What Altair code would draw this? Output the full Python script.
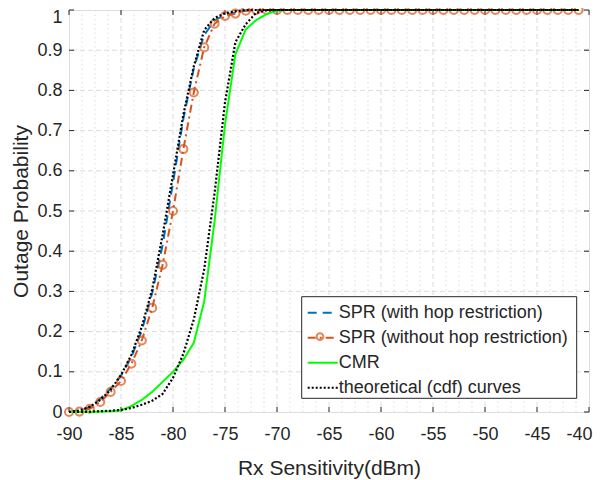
import altair as alt
import pandas as pd

# ---------------- data ----------------
x_dbm = [-90, -89, -88, -87, -86, -85, -84, -83, -82, -81,
         -80, -79, -78, -77, -76, -75, -74, -73, -72, -71,
         -70, -69, -68, -67, -66, -65, -64, -63, -62, -61,
         -60, -59, -58, -57, -56, -55, -54, -53, -52, -51,
         -50, -49, -48, -47, -46, -45, -44, -43, -42, -41]

spr_hop = [0.0, 0.003, 0.012, 0.033, 0.058, 0.09, 0.137, 0.202, 0.296, 0.415,
           0.57, 0.73, 0.855, 0.938, 0.974, 0.988, 0.994, 0.999, 1.0, 1.0,
           1.0, 1.0, 1.0, 1.0, 1.0, 1.0, 1.0, 1.0, 1.0, 1.0,
           1.0, 1.0, 1.0, 1.0, 1.0, 1.0, 1.0, 1.0, 1.0, 1.0,
           1.0, 1.0, 1.0, 1.0, 1.0, 1.0, 1.0, 1.0, 1.0, 1.0]

spr_nohop = [0.0, 0.001, 0.008, 0.025, 0.05, 0.077, 0.12, 0.178, 0.259, 0.366,
             0.5, 0.654, 0.795, 0.907, 0.966, 0.985, 0.991, 0.998, 1.0, 1.0,
             1.0, 1.0, 1.0, 1.0, 1.0, 1.0, 1.0, 1.0, 1.0, 1.0,
             1.0, 1.0, 1.0, 1.0, 1.0, 1.0, 1.0, 1.0, 1.0, 1.0,
             1.0, 1.0, 1.0, 1.0, 1.0, 1.0, 1.0, 1.0, 1.0, 1.0]

cmr = [0.0, 0.0, 0.0, 0.001, 0.002, 0.004, 0.015, 0.03, 0.05, 0.075,
       0.1, 0.13, 0.172, 0.275, 0.475, 0.715, 0.89, 0.952, 0.975, 0.99,
       0.998, 1.0, 1.0, 1.0, 1.0, 1.0, 1.0, 1.0, 1.0, 1.0,
       1.0, 1.0, 1.0, 1.0, 1.0, 1.0, 1.0, 1.0, 1.0, 1.0,
       1.0, 1.0, 1.0, 1.0, 1.0, 1.0, 1.0, 1.0, 1.0, 1.0]

theory_spr = [0.0, 0.004, 0.013, 0.03, 0.055, 0.092, 0.142, 0.212, 0.305, 0.44,
              0.59, 0.74, 0.86, 0.95, 0.98, 0.992, 0.997, 1.0, 1.0, 1.0,
              1.0, 1.0, 1.0, 1.0, 1.0, 1.0, 1.0, 1.0, 1.0, 1.0,
              1.0, 1.0, 1.0, 1.0, 1.0, 1.0, 1.0, 1.0, 1.0, 1.0,
              1.0, 1.0, 1.0, 1.0, 1.0, 1.0, 1.0, 1.0, 1.0, 1.0]

theory_cmr = [0.0, 0.0, 0.001, 0.002, 0.003, 0.005, 0.01, 0.018, 0.028, 0.045,
              0.085, 0.145, 0.23, 0.355, 0.545, 0.77, 0.92, 0.965, 0.993, 0.999,
              1.0, 1.0, 1.0, 1.0, 1.0, 1.0, 1.0, 1.0, 1.0, 1.0,
              1.0, 1.0, 1.0, 1.0, 1.0, 1.0, 1.0, 1.0, 1.0, 1.0,
              1.0, 1.0, 1.0, 1.0, 1.0, 1.0, 1.0, 1.0, 1.0, 1.0]

series_names = ["SPR (with hop restriction)", "SPR (without hop restriction)",
                "CMR", "theoretical (cdf) curves"]
x_ticks = [-90, -85, -80, -75, -70, -65, -60, -55, -50, -45, -40]
y_ticks = [0, 0.1, 0.2, 0.3, 0.4, 0.5, 0.6, 0.7, 0.8, 0.9, 1]

# ---------------- styles ----------------
colors = ["#0072BD", "#D95319", "#00FF00", "#000000"]
dashes = [[9, 6], [8, 4, 2, 4], [1, 0], [2, 2]]
W, H = 520, 402
FONT = "Liberation Sans"
TXT = "#262626"
FS = 18
# legend box (pixels inside the plot area)
BOX_X0, BOX_X1, BOX_Y0, BOX_Y1 = 232.7, 507.7, 286.7, 388.3
LEG_X, LEG_Y = 232.7, 281.7

curves = [("a", series_names[0], spr_hop),
          ("b", series_names[1], spr_nohop),
          ("c", series_names[2], cmr),
          ("d", series_names[3], theory_spr),
          ("e", series_names[3], theory_cmr)]
rows = []
for cid, name, vals in curves:
    for xv, yv in zip(x_dbm, vals):
        rows.append({"x": xv, "y": yv, "series": name, "curve": cid})
df = pd.DataFrame(rows)

x_scale = alt.Scale(domain=[-90, -40], nice=False, zero=False)
y_scale = alt.Scale(domain=[0, 1], nice=False)

x_axis = alt.Axis(values=x_ticks, labelExpr="'' + datum.value", ticks=False, domain=False,
                  grid=False, labelFont=FONT, labelFontSize=FS, labelColor=TXT,
                  labelPadding=13, labelFlush=False, labelOverlap=False,
                  labelOffset={"condition": {"test": "datum.value === -40", "value": -10}, "value": 0},
                  title="Rx Sensitivity(dBm)", titleFont=FONT, titleFontSize=21,
                  titleFontWeight="normal", titleColor=TXT, titleY=62,
                  titleBaseline="alphabetic")
y_axis = alt.Axis(values=y_ticks, format="~g", ticks=False, domain=False, grid=False,
                  labelFont=FONT, labelFontSize=FS, labelColor=TXT, labelPadding=7,
                  labelFlush=False, labelOverlap=False,
                  labelOffset={"condition": {"test": "datum.value === 1", "value": 7}, "value": 0},
                  title="Outage Probability", titleFont=FONT, titleFontSize=21,
                  titleFontWeight="normal", titleColor=TXT, titleX=-42, titleY=H / 2,
                  titleBaseline="alphabetic", titleAlign="center", titleAngle=270)

X = alt.X("x:Q", scale=x_scale, axis=x_axis)
Y = alt.Y("y:Q", scale=y_scale, axis=y_axis)

legend = alt.Legend(
    title=None, orient="none", legendX=LEG_X, legendY=LEG_Y,
    symbolType="stroke", symbolSize=900, symbolStrokeWidth=2,
    labelFont=FONT, labelFontSize=FS, labelColor=TXT, labelLimit=400, labelOffset=0,
    padding=5, rowPadding=0,
)
color_enc = alt.Color("series:N", scale=alt.Scale(domain=series_names, range=colors), legend=legend)
dash_enc = alt.StrokeDash("series:N", scale=alt.Scale(domain=series_names, range=dashes), legend=legend)

# ---------------- grid ----------------
minor_x = [-90 + 1.25 * i for i in range(1, 40) if i % 4 != 0]
grid_minor = alt.Chart(pd.DataFrame({"x": minor_x})).mark_rule(
    color="#dedede", strokeDash=[1.5, 3], strokeWidth=1).encode(x=X)
grid_vx = alt.Chart(pd.DataFrame({"x": x_ticks[1:-1]})).mark_rule(
    color="#dcdcdc", strokeDash=[5, 3], strokeWidth=1).encode(x=X)
grid_hy = alt.Chart(pd.DataFrame({"y": y_ticks[1:-1]})).mark_rule(
    color="#dcdcdc", strokeDash=[5, 3], strokeWidth=1).encode(y=Y)

# inward ticks (box style)
tick_b = alt.Chart(pd.DataFrame({"x": x_ticks})).mark_rule(color=TXT, strokeWidth=1).encode(
    x=X, y=alt.value(H), y2=alt.value(H - 5))
tick_t = alt.Chart(pd.DataFrame({"x": x_ticks})).mark_rule(color=TXT, strokeWidth=1).encode(
    x=X, y=alt.value(0), y2=alt.value(5))
tick_l = alt.Chart(pd.DataFrame({"y": y_ticks})).mark_rule(color=TXT, strokeWidth=1).encode(
    y=Y, x=alt.value(0), x2=alt.value(5))
tick_r = alt.Chart(pd.DataFrame({"y": y_ticks})).mark_rule(color=TXT, strokeWidth=1).encode(
    y=Y, x=alt.value(W - 5), x2=alt.value(W))

# legend background box (decoration)
leg_box = alt.Chart(pd.DataFrame({"k": [0]})).mark_rect(
    fill="white", stroke=TXT, strokeWidth=1).encode(
    x=alt.value(BOX_X0), x2=alt.value(BOX_X1), y=alt.value(BOX_Y0), y2=alt.value(BOX_Y1))

# ---------------- curves ----------------
base = alt.Chart(df)
line_layers = []
for cid, name, _ in curves:
    sw = 2.2 if cid in ("d", "e") else 2
    line_layers.append(
        base.transform_filter(alt.datum.curve == cid).mark_line(strokeWidth=sw).encode(
            x=X, y=Y, color=color_enc, strokeDash=dash_enc, detail="curve:N"))
pts = base.transform_filter(alt.datum.curve == "b").mark_point(
    filled=False, shape="circle", size=65, strokeWidth=2, color=colors[1]).encode(x=X, y=Y)

# circle marker on the legend's second entry (legend decoration)
leg_marker = alt.Chart(pd.DataFrame({"k": [0]})).mark_point(
    filled=True, fill="white", shape="circle", size=45, strokeWidth=2, stroke=colors[1]).encode(
    x=alt.value(251), y=alt.value(326.7))

layers = [grid_minor, grid_vx, grid_hy, tick_b, tick_t, tick_l, tick_r, leg_box,
          line_layers[0], line_layers[1], pts, line_layers[2], line_layers[3], line_layers[4],
          leg_marker]

chart = alt.layer(*layers).properties(
    width=W, height=H,
    autosize=alt.AutoSizeParams(type="none"),
    padding={"left": 61, "top": 2, "right": 5, "bottom": 68},
).configure_view(stroke=TXT, strokeWidth=1).configure(background="white")

chart.save("out.html", embed_options={"renderer": "svg", "actions": False})
